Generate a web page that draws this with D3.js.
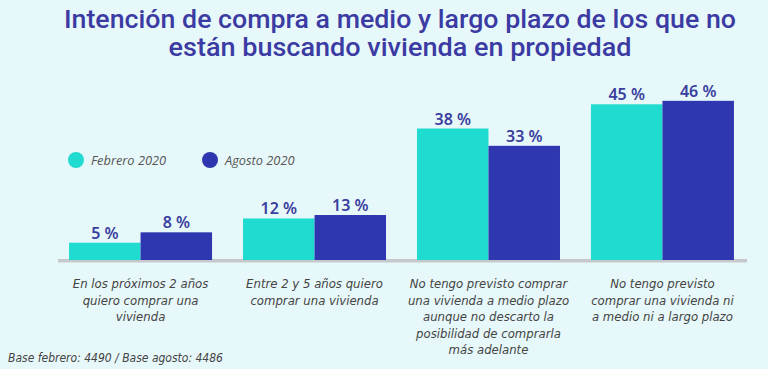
<!DOCTYPE html>
<html><head><meta charset="utf-8">
<script src="https://cdn.jsdelivr.net/npm/d3@7"></script>
<style>
html,body{margin:0;padding:0;background:#e7f8fa;}
svg{display:block;}
</style></head>
<body>
<svg id="c" width="768" height="369"></svg>
<script>
const titleLines = ["Intención de compra a medio y largo plazo de los que no", "están buscando vivienda en propiedad"];
const categories = [
  ["En los próximos 2 años", "quiero comprar una", "vivienda"],
  ["Entre 2 y 5 años quiero", "comprar una vivienda"],
  ["No tengo previsto comprar", "una vivienda a medio plazo", "aunque no descarto la", "posibilidad de comprarla", "más adelante"],
  ["No tengo previsto", "comprar una vivienda ni", "a medio ni a largo plazo"]
];
const seriesNames = ["Febrero 2020", "Agosto 2020"];
const febrero = [5, 12, 38, 45];
const agosto = [8, 13, 33, 46];
const footnote = "Base febrero: 4490 / Base agosto: 4486";

const colors = ["#1fdbd0", "#2f37b0"];
const svg = d3.select("#c");
svg.append("rect").attr("width",768).attr("height",369).attr("fill","#e7f8fa");

const catIdx = categories.map((d,i)=>i);
const x = d3.scaleBand().domain(catIdx).range([52, 751]).paddingInner(0.178).paddingOuter(0.098);
const xs = d3.scaleBand().domain([0,1]).range([0, x.bandwidth()]);
const y = d3.scaleLinear().domain([0, 50]).range([260, 87]);

// title
const title = svg.append("text").attr("text-anchor","middle")
  .attr("font-family","Roboto, 'Noto Sans', sans-serif").attr("font-weight","500")
  .attr("font-size",26.5).attr("fill","#3b3ba3");
const tl = [672, 463];
titleLines.forEach((t,i)=>title.append("tspan").attr("x",400).attr("y",28+i*28)
  .attr("textLength",tl[i]).attr("lengthAdjust","spacingAndGlyphs").text(t));

// legend
const leg = svg.append("g");
[[76,91],[210,225]].forEach((p,i)=>{
  leg.append("circle").attr("cx",p[0]).attr("cy",160).attr("r",8).attr("fill",colors[i]);
  leg.append("text").attr("x",p[1]).attr("y",164.5).attr("font-family","'Open Sans', sans-serif")
    .attr("font-style","italic").attr("font-size",12.8).attr("fill","#555").text(seriesNames[i]);
});

// axis line
svg.append("rect").attr("x",58).attr("y",259).attr("width",689).attr("height",3.5).attr("fill","#c6c9cb");

const data = [febrero, agosto];
const g = svg.append("g");
data.forEach((vals,s)=>{
  vals.forEach((v,i)=>{
    const bx = x(i)+xs(s);
    g.append("rect").attr("x",bx).attr("y",y(v)).attr("width",xs.bandwidth()).attr("height",y(0)-y(v)).attr("fill",colors[s]);
    g.append("text").attr("x",bx+xs.bandwidth()/2).attr("y",y(v)-4).attr("text-anchor","middle")
      .attr("font-family","'Noto Sans', sans-serif").attr("font-weight","600").attr("font-size",16)
      .attr("fill","#3a3f9e").text(v+" %");
  });
});

// x axis labels
const ax = d3.axisBottom(x).tickSize(0).tickFormat("");
const axG = svg.append("g").attr("transform","translate(0,262)").call(ax);
axG.select(".domain").remove();
axG.selectAll(".tick").each(function(d){
  const t = d3.select(this).append("text").attr("text-anchor","middle")
    .attr("font-family","'Liberation Sans Narrow', 'DejaVu Sans Condensed', sans-serif")
    .attr("font-style","italic").attr("font-size",13).attr("fill","#444");
  categories[d].forEach((line,j)=>t.append("tspan").attr("x",0).attr("y",26+j*16.5).text(line));
});

svg.append("text").attr("x",8).attr("y",362).attr("font-family","'Liberation Sans Narrow', 'DejaVu Sans Condensed', sans-serif")
  .attr("font-style","italic").attr("font-size",12).attr("fill","#444").text(footnote);
</script>
</body></html>
